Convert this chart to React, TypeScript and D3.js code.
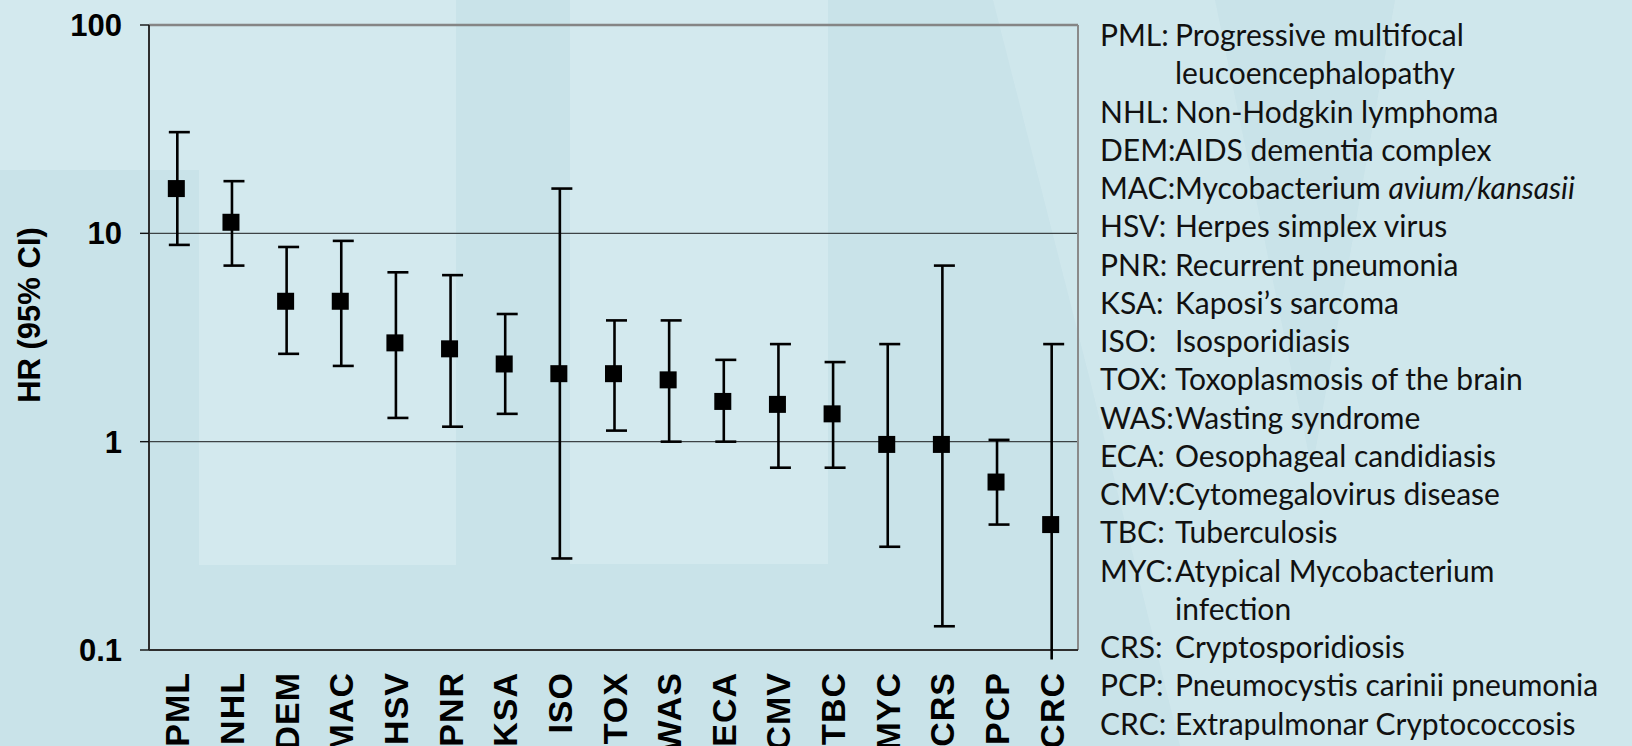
import React from "react";
import * as d3 from "d3";

// categories and hazard ratios
const categories = ["PML", "NHL", "DEM", "MAC", "HSV", "PNR", "KSA", "ISO", "TOX", "WAS", "ECA", "CMV", "TBC", "MYC", "CRS", "PCP", "CRC"];
const hrValues = [16.4, 11.3, 4.72, 4.72, 2.98, 2.79, 2.36, 2.12, 2.12, 1.98, 1.56, 1.51, 1.36, 0.97, 0.97, 0.64, 0.4];
const ciLower = [8.8, 7.0, 2.64, 2.31, 1.3, 1.18, 1.36, 0.275, 1.13, 1.0, 1.0, 0.75, 0.75, 0.313, 0.13, 0.4, 0.09];
const ciUpper = [30.6, 17.8, 8.6, 9.2, 6.5, 6.3, 4.1, 16.4, 3.82, 3.82, 2.47, 2.94, 2.41, 2.94, 7.0, 1.02, 2.94];
const yTicks = [0.1, 1, 10, 100];

// legend lines: abbreviation, text, optional italic tail
const legendAbbr = ["PML:", "", "NHL:", "DEM:", "MAC:", "HSV:", "PNR:", "KSA:", "ISO:", "TOX:", "WAS:", "ECA:", "CMV:", "TBC:", "MYC:", "", "CRS:", "PCP:", "CRC:"];
const legendText = [
  "Progressive multifocal",
  "leucoencephalopathy",
  "Non-Hodgkin lymphoma",
  "AIDS dementia complex",
  "Mycobacterium ",
  "Herpes simplex virus",
  "Recurrent pneumonia",
  "Kaposi\u2019s sarcoma",
  "Isosporidiasis",
  "Toxoplasmosis of the brain",
  "Wasting syndrome",
  "Oesophageal candidiasis",
  "Cytomegalovirus disease",
  "Tuberculosis",
  "Atypical Mycobacterium",
  "infection",
  "Cryptosporidiosis",
  "Pneumocystis carinii pneumonia",
  "Extrapulmonar Cryptococcosis",
];
const legendItalic = ["", "", "", "", "avium/kansasii", "", "", "", "", "", "", "", "", "", "", "", "", "", ""];

const W = 1632;
const H = 746;
const plot = { left: 149, right: 1078, top: 25, bottom: 650 };

const light = "#d3e9ee";
const dark = "#c9e3e9";

const App = () => {
  const x = d3.scaleBand().domain(categories).range([plot.left, plot.right]);
  const y = d3.scaleLog().domain([0.1, 100]).range([plot.bottom, plot.top]);
  const capW = 21;
  const box = 17;
  const rows = categories.map((c, i) => ({ c, hr: hrValues[i], lo: ciLower[i], hi: ciUpper[i] }));
  const cx = (c: string) => (x(c) as number) + x.bandwidth() / 2 + 1;
  const boldFont = "'Liberation Sans', Arial, sans-serif";

  return (
    <svg width={W} height={H} style={{ position: "absolute", left: 0, top: 0, display: "block" }}>
      {/* background with faint watermark shapes */}
      <rect x={0} y={0} width={W} height={H} fill={dark} />
      <rect x={0} y={0} width={199} height={170} fill={light} />
      <rect x={199} y={0} width={257} height={565} fill={light} />
      <rect x={570} y={0} width={258} height={564} fill={light} />
      <polygon points="993,0 1215,0 1312,470 1395,0 1632,0 1632,746 1180,746 1090,380" fill={light} opacity={0.6} />

      {/* gridlines */}
      {yTicks.slice(1, 3).map((t) => (
        <line key={t} x1={plot.left} x2={plot.right} y1={y(t)} y2={y(t)} stroke="#3d4345" strokeWidth={1.4} />
      ))}
      <line x1={plot.left} x2={plot.right} y1={y(100)} y2={y(100)} stroke="#858585" strokeWidth={2.6} />
      <line x1={plot.right} x2={plot.right} y1={plot.top} y2={plot.bottom} stroke="#8a8a8a" strokeWidth={2} />

      {/* axes */}
      <line x1={plot.left} x2={plot.left} y1={plot.top} y2={plot.bottom} stroke="#2e2e2e" strokeWidth={2} />
      <line x1={plot.left} x2={plot.right} y1={plot.bottom} y2={plot.bottom} stroke="#2e2e2e" strokeWidth={2} />
      {yTicks.map((t) => (
        <g key={t}>
          <line x1={plot.left - 9} x2={plot.left} y1={y(t)} y2={y(t)} stroke="#111" strokeWidth={1.4} />
          <text x={122} y={y(t) + 11} textAnchor="end" fontFamily={boldFont} fontWeight="bold" fontSize={31} fill="#000">
            {t}
          </text>
        </g>
      ))}
      <text
        transform={`translate(40,315) rotate(-90)`}
        textAnchor="middle"
        fontFamily={boldFont}
        fontWeight="bold"
        fontSize={31}
        fill="#000"
      >
        HR (95% CI)
      </text>
      {categories.map((c) => (
        <text
          key={c}
          transform={`translate(${cx(c) + 12},672) rotate(-90)`}
          textAnchor="end"
          fontFamily={boldFont}
          fontWeight="bold"
          fontSize={34}
          letterSpacing={1}
          fill="#000"
        >
          {c}
        </text>
      ))}

      {/* error bars */}
      {rows.map((d) => {
        const xc = cx(d.c);
        const yLo = y(d.lo);
        const yHi = y(d.hi);
        return (
          <g key={d.c} stroke="#000" strokeWidth={2.6}>
            <line x1={xc} x2={xc} y1={yHi} y2={yLo} />
            <line x1={xc - capW / 2 + 2} x2={xc + capW / 2 + 2} y1={yHi} y2={yHi} />
            {d.lo >= 0.1 && <line x1={xc - capW / 2 + 2} x2={xc + capW / 2 + 2} y1={yLo} y2={yLo} />}
            <rect x={xc - box / 2 - 1} y={y(d.hr) - box / 2} width={box} height={box} fill="#000" stroke="none" />
          </g>
        );
      })}

      {/* legend */}
      <g fontFamily="Lato, 'Open Sans', sans-serif" fontSize={30} fill="#111">
        {legendText.map((t, i) => (
          <g key={i}>
            {legendAbbr[i] && (
              <text x={1100} y={46 + i * 38.25}>
                {legendAbbr[i]}
              </text>
            )}
            <text x={1175} y={46 + i * 38.25}>
              {t}
              {legendItalic[i] && <tspan fontStyle="italic">{legendItalic[i]}</tspan>}
            </text>
          </g>
        ))}
      </g>
    </svg>
  );
};

export default App;
